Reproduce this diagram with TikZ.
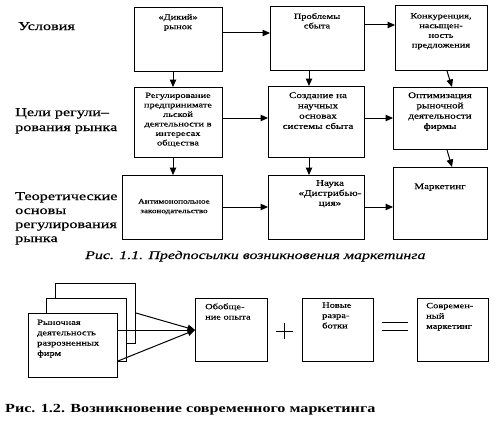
\documentclass[tikz,border=0pt]{standalone}
\usepackage{fontspec}
\setmainfont{Liberation Serif}
\newfontfamily\stretchfnt[FakeStretch=1.3,FakeBold=0.4]{Liberation Serif}
\newfontfamily\boldcapfnt[FakeStretch=1.3]{Liberation Serif}
\newfontfamily\labfnt[FakeStretch=1.35,FakeBold=0.6]{Liberation Serif}
\newfontfamily\capfnt[FakeStretch=1.35,FakeBold=0.3]{Liberation Serif}
\usetikzlibrary{arrows.meta}
\begin{document}
\begin{tikzpicture}[x=1pt,y=-1pt,
  box/.style={draw, line width=1pt, anchor=north west, inner sep=0pt, fill=white},
  txt/.style={font=\stretchfnt\fontsize{8}{9.5}\selectfont, align=center, inner sep=0pt, anchor=north},
  ltxt/.style={font=\stretchfnt\fontsize{8}{10.3}\selectfont, align=left, inner sep=0pt, anchor=north west},
  lab/.style={font=\labfnt\fontsize{12}{14.5}\selectfont, align=left, inner sep=0pt, anchor=north west},
  arr/.style={-{Triangle[length=7.5pt,width=6.5pt]}, line width=1pt},
  ln/.style={line width=1pt}]
\useasboundingbox (0,0) rectangle (500,420);

% left labels
\node[lab] (l1) at (18,22) {Условия};
\node[lab, font=\labfnt\fontsize{12}{15}\selectfont] (l2) at (15,108) {Цели регули–\\рования рынка};
\node[lab, font=\labfnt\fontsize{12}{14}\selectfont] (l3) at (15,192) {Теоретические\\основы\\регулирования\\рынка};

% row 1
\node[box, minimum width=88, minimum height=64] (A) at (134,7) {};
\node[box, minimum width=94, minimum height=64] (B) at (270,6) {};
\node[box, minimum width=92, minimum height=65] (C) at (395,5) {};
\node[txt] (tA) at (178,14) {«Дикий»\\рынок};
\node[txt] (tB) at (317,13) {Проблемы\\сбыта};
\node[txt, font=\stretchfnt\fontsize{8}{9.7}\selectfont] (tC) at (441,13) {Конкуренция,\\насыщен-\\ность\\предложения};

% row 2
\node[box, minimum width=88, minimum height=70] (D) at (134,87) {};
\node[box, minimum width=96, minimum height=71] (E) at (268,86) {};
\node[box, minimum width=94, minimum height=62] (F) at (393,87) {};
\node[txt] (tD) at (178,92.5) {Регулирование\\предпринимате\\льской\\деятельности в\\интересах\\общества};
\node[txt, font=\stretchfnt\fontsize{8.5}{10.3}\selectfont] (tE) at (318,92.2) {Создание на\\научных\\основах\\системы сбыта};
\node[txt, font=\stretchfnt\fontsize{8.5}{10.3}\selectfont] (tF) at (440,92.2) {Оптимизация\\рыночной\\деятельности\\фирмы};

% row 3
\node[box, minimum width=100, minimum height=64] (G) at (122,175) {};
\node[box, minimum width=96, minimum height=64] (H) at (268,175) {};
\node[box, minimum width=94, minimum height=72] (I) at (393,167) {};
\node[txt, font=\stretchfnt\fontsize{7}{9.5}\selectfont] (tG) at (174,198.8) {Антимонопольное\\законодательство};
\node[txt, font=\stretchfnt\fontsize{8.5}{10}\selectfont] (tH) at (330,180) {Наука\\«Дистрибью-\\ция»};
\node[txt, font=\stretchfnt\fontsize{8.5}{10}\selectfont] (tI) at (440,183.3) {Маркетинг};

% arrows top figure
\draw[arr] (A.east |- 0,33) -- (B.west |- 0,33);
\draw[arr] (B.east |- 0,25) -- (C.west |- 0,25);
\draw[arr] (D.east |- 0,118) -- (E.west |- 0,118);
\draw[arr] (E.east |- 0,118) -- (F.west |- 0,118);
\draw[arr] (G.east |- 0,207) -- (H.west |- 0,207);
\draw[arr] (H.east |- 0,207) -- (I.west |- 0,207);
\draw[arr] (A.south -| 173,0) -- (D.north -| 173,0);
\draw[arr] (B.south -| 309,0) -- (E.north -| 309,0);
\draw[arr] (C.south -| 447,0) -- (F.north -| 452,0);
\draw[arr] (D.south -| 173,0) -- (G.north -| 173,0);
\draw[arr] (E.south -| 309,0) -- (H.north -| 309,0);
\draw[arr] (F.south -| 447,0) -- (I.north -| 452,0);

% caption 1
\node[font=\capfnt\itshape\fontsize{11.8}{14}\selectfont, inner sep=0pt, anchor=base west] (cap1) at (85,259) {Рис. 1.1. Предпосылки возникновения маркетинга};

% bottom figure
\node[box, minimum width=80, minimum height=60] (S3) at (55,283) {};
\node[box, minimum width=80, minimum height=63] (S2) at (46,298) {};
\node[box, minimum width=89, minimum height=64] (S1) at (28,313) {};
\node[ltxt] (tS) at (37,319.5) {Рыночная\\деятельность\\разрозненных\\фирм};
\node[box, minimum width=72, minimum height=63] (O) at (195,298) {};
\node[box, minimum width=71, minimum height=63] (N) at (302,298) {};
\node[box, minimum width=71, minimum height=63] (M) at (417,298) {};
\node[ltxt] (tO) at (205,303.3) {Обобще-\\ние опыта};
\node[ltxt] (tN) at (322,302.3) {Новые\\разра-\\ботки};
\node[ltxt] (tM) at (426,302.7) {Современ-\\ный\\маркетинг};

\draw[arr] (S3.east |- 0,313) -- (O.west);
\draw[arr] (S1.east |- O.west) -- (O.west);
\draw[arr] (S1.east |- 0,361) -- (O.west);

% plus and equals
\draw[ln] (284,323) -- (284,339);
\draw[ln] (276,331) -- (293,331);
\draw[ln] (382,322) -- (408,322);
\draw[ln] (382,330) -- (408,330);

% caption 2
\node[font=\boldcapfnt\bfseries\fontsize{12.4}{14}\selectfont, inner sep=0pt, anchor=base west] (cap2) at (5,412) {Рис. 1.2. Возникновение современного маркетинга};
\end{tikzpicture}
\end{document}
